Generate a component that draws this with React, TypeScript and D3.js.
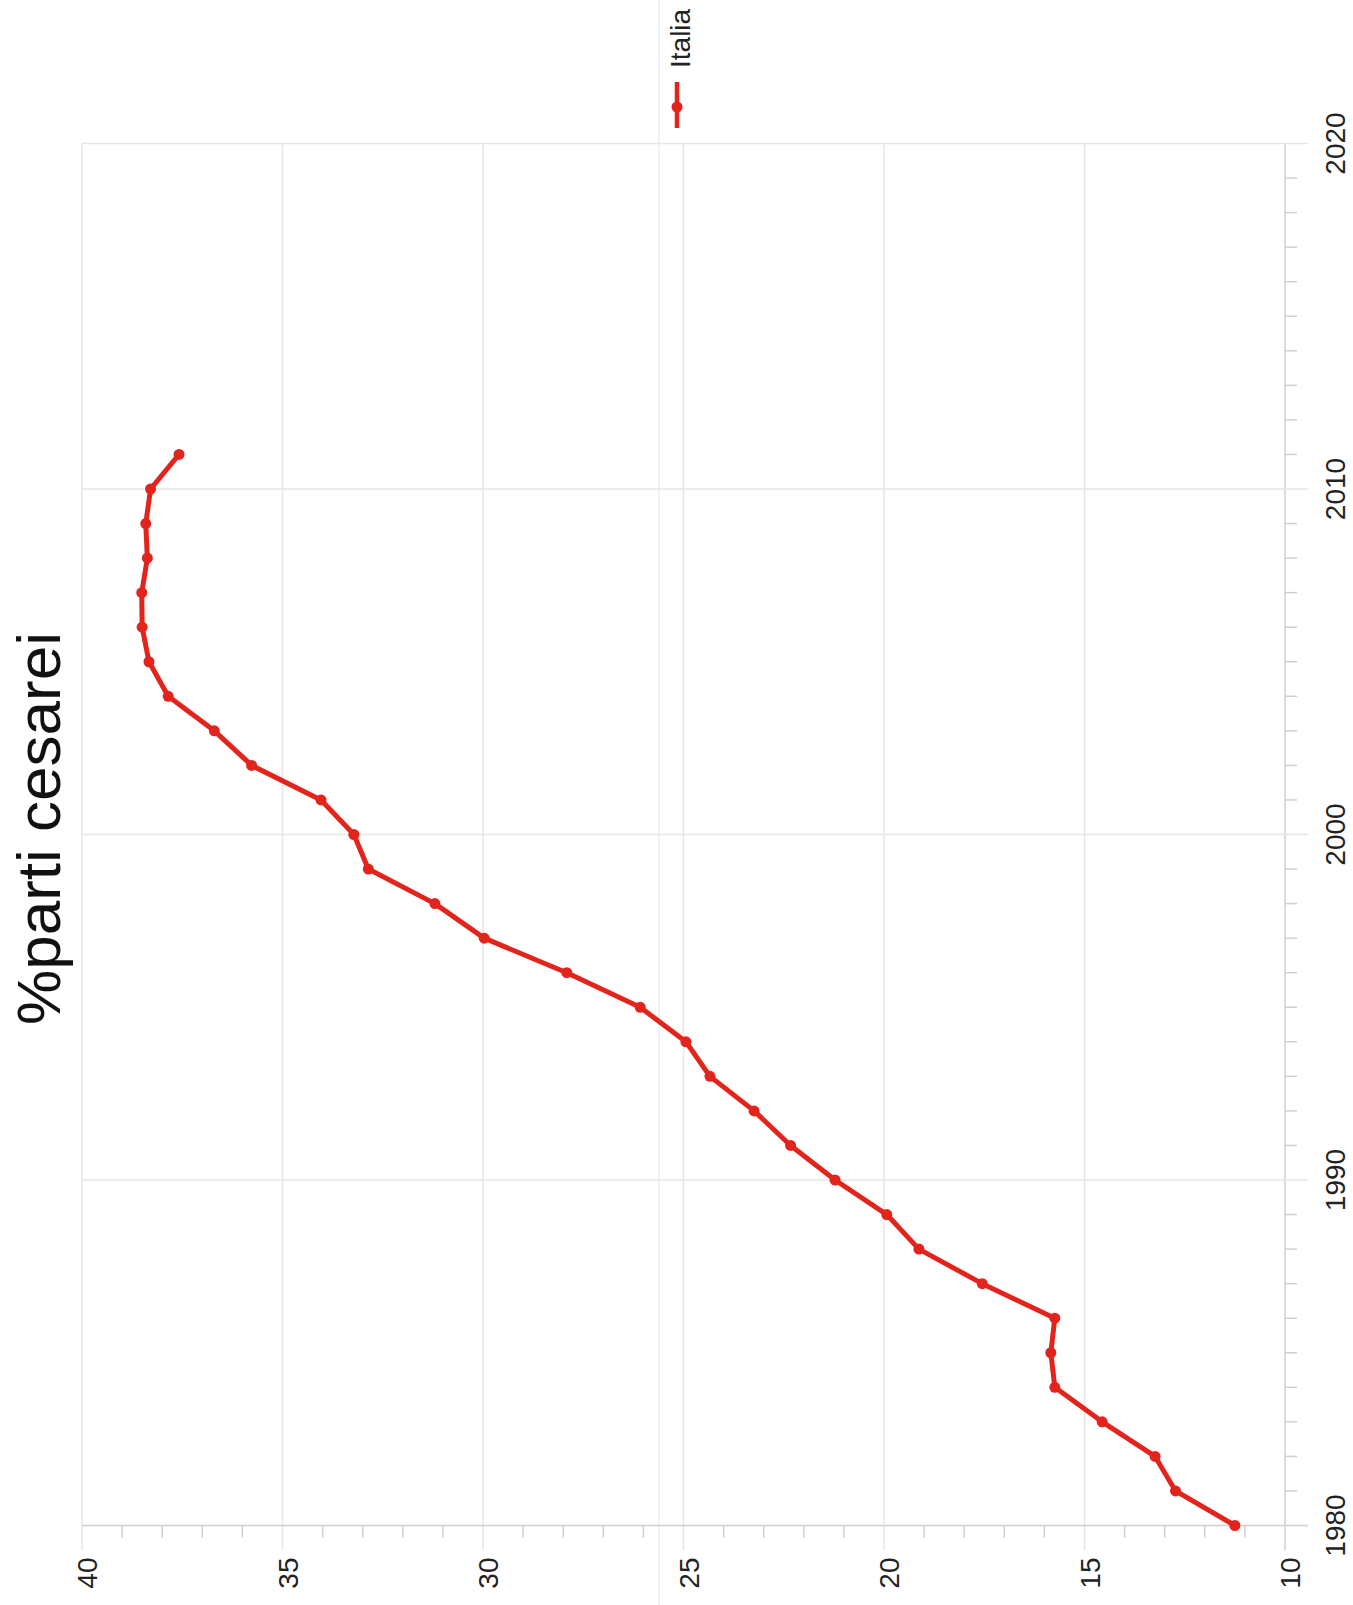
import React from "react";
import * as d3 from "d3";

const years = [1980, 1981, 1982, 1983, 1984, 1985, 1986, 1987, 1988, 1989, 1990, 1991, 1992, 1993, 1994, 1995, 1996, 1997, 1998, 1999, 2000, 2001, 2002, 2003, 2004, 2005, 2006, 2007, 2008, 2009, 2010, 2011];
const italia = [11.25, 12.73, 13.24, 14.56, 15.74, 15.84, 15.74, 17.55, 19.13, 19.93, 21.22, 22.33, 23.24, 24.34, 24.94, 26.08, 27.91, 29.97, 31.2, 32.86, 33.22, 34.04, 35.77, 36.7, 37.85, 38.33, 38.5, 38.51, 38.37, 38.41, 38.29, 37.58];
const valueTicks = [40, 35, 30, 25, 20, 15, 10];
const yearTicks = [1980, 1990, 2000, 2010, 2020];
const title = "%parti cesarei";
const seriesName = "Italia";

const W = 1353;
const H = 1605;
const FONT = "'Liberation Sans', Arial, Helvetica, sans-serif";
const RED = "#e3241d";
const GRID = "#e6e6e6";
const AXIS = "#cfcfcf";

export default function App() {
  const x = d3.scaleLinear().domain([40, 10]).range([82, 1285]);
  const y = d3.scaleLinear().domain([1980, 2020]).range([1525.5, 143.5]);
  const line = d3
    .line<number>()
    .x((d) => x(d))
    .y((_, i) => y(years[i]));

  const minorValues = d3.range(10, 41, 1).filter((v) => v % 5 !== 0);
  const minorYears = d3.range(1980, 2021, 1).filter((v) => v % 10 !== 0);
  const bottom = y(1980);
  const top = y(2020);
  const left = x(40);
  const right = x(10);

  return (
    <svg
      width={W}
      height={H}
      style={{ position: "absolute", left: 0, top: 0, display: "block", background: "#fff" }}
      fontFamily={FONT}
    >
      <line x1={659} x2={659} y1={0} y2={H} stroke="#dde7f0" strokeWidth={1} />

      {valueTicks.map((v) => (
        <line key={"vg" + v} x1={x(v)} x2={x(v)} y1={top} y2={bottom + 25} stroke={v === 10 ? AXIS : GRID} strokeWidth={1.5} />
      ))}
      {yearTicks.map((yr) => (
        <line key={"yg" + yr} x1={left} x2={right + 23} y1={y(yr)} y2={y(yr)} stroke={yr === 1980 ? AXIS : GRID} strokeWidth={1.5} />
      ))}
      {minorValues.map((v) => (
        <line key={"mv" + v} x1={x(v)} x2={x(v)} y1={bottom} y2={bottom + 12} stroke={AXIS} strokeWidth={1.5} />
      ))}
      {minorYears.map((yr) => (
        <line key={"my" + yr} x1={right} x2={right + 12} y1={y(yr)} y2={y(yr)} stroke={AXIS} strokeWidth={1.5} />
      ))}

      {valueTicks.map((v) => (
        <text
          key={"vl" + v}
          transform={`translate(${x(v) + 15},${bottom + 32}) rotate(-90)`}
          textAnchor="end"
          fontSize={28}
          fill="#222"
        >
          {v}
        </text>
      ))}
      {yearTicks.map((yr) => (
        <text
          key={"yl" + yr}
          transform={`translate(1345,${y(yr)}) rotate(-90)`}
          textAnchor="middle"
          fontSize={28}
          fill="#222"
        >
          {yr}
        </text>
      ))}

      <text transform={`translate(60,828.5) rotate(-90)`} textAnchor="middle" fontSize={62} fill="#111">
        {title}
      </text>

      <line x1={677} x2={677} y1={82} y2={128} stroke={RED} strokeWidth={4.5} />
      <circle cx={677} cy={107} r={5.5} fill={RED} />
      <text transform={`translate(690,68) rotate(-90)`} textAnchor="start" fontSize={28} fill="#222">
        {seriesName}
      </text>

      <path d={line(italia) || ""} fill="none" stroke={RED} strokeWidth={5} strokeLinejoin="round" />
      {italia.map((v, i) => (
        <circle key={"pt" + i} cx={x(v)} cy={y(years[i])} r={5.5} fill={RED} />
      ))}
    </svg>
  );
}
